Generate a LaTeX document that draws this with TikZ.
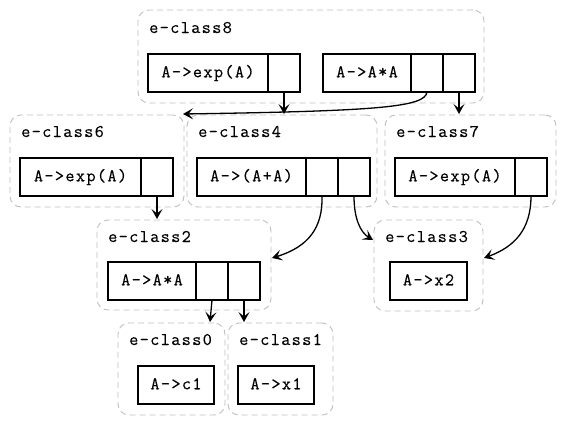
\documentclass[tikz,border=0pt]{standalone}
\usepackage{fontspec}
\newfontfamily\cour{Latin Modern Mono}[LetterSpace=7.5,FakeBold=0.25]
\usetikzlibrary{arrows.meta}
\begin{document}
\begin{tikzpicture}[x=1pt,y=-1pt,
  every node/.style={font=\cour\fontsize{17.8pt}{20pt}\selectfont},
  cluster/.style={draw=black!25, dash pattern=on 6pt off 4pt, rounded corners=11pt,
    line width=0.9pt, anchor=north west, inner sep=0pt, outer sep=0pt},
  clabel/.style={anchor=base west, inner sep=0pt},
  rec/.style={draw=black, line width=1.1pt, minimum height=38pt, inner sep=0pt,
    outer sep=0pt, text height=11pt, text depth=2.5pt},
  port/.style={rec, minimum width=32pt, anchor=west},
  edge/.style={line width=1.3pt, -{Stealth[length=10pt,width=11pt,inset=4.5pt]}}
]
\useasboundingbox (0,0) rectangle (568,426);
% clusters
\node[cluster, minimum width=346pt, minimum height=93pt] (cl8) at (138,10) {};
\node[cluster, minimum width=174pt, minimum height=92pt] (cl6) at (10,115) {};
\node[cluster, minimum width=190pt, minimum height=92pt] (cl4) at (187,115) {};
\node[cluster, minimum width=171pt, minimum height=92pt] (cl7) at (385,115) {};
\node[cluster, minimum width=174pt, minimum height=90pt] (cl2) at (97,220) {};
\node[cluster, minimum width=109pt, minimum height=91pt] (cl3) at (374,220) {};
\node[cluster, minimum width=107pt, minimum height=92pt] (cl0) at (118,323) {};
\node[cluster, minimum width=105pt, minimum height=92pt] (cl1) at (228,323) {};
% cluster labels
\node[clabel] (l8) at (149,33) {e-class8};
\node[clabel] (l6) at (21,137) {e-class6};
\node[clabel] (l4) at (198,137) {e-class4};
\node[clabel] (l7) at (396,137) {e-class7};
\node[clabel] (l2) at (108,242) {e-class2};
\node[clabel] (l3) at (385,242) {e-class3};
\node[clabel] (l0) at (129,345) {e-class0};
\node[clabel] (l1) at (239,345) {e-class1};
% records
\node[rec, anchor=north west, minimum width=120pt] (r81) at (148,54) {A->exp(A)};
\node[port] (p81) at (r81.east) {};
\node[rec, anchor=north west, minimum width=88pt] (r82) at (323,54) {A->A*A};
\node[port] (p82a) at (r82.east) {};
\node[port] (p82b) at (p82a.east) {};
\node[rec, anchor=north west, minimum width=121pt] (r6) at (20,158) {A->exp(A)};
\node[port] (p6) at (r6.east) {};
\node[rec, anchor=north west, minimum width=109pt] (r4) at (197,158) {A->(A+A)};
\node[port] (p4a) at (r4.east) {};
\node[port] (p4b) at (p4a.east) {};
\node[rec, anchor=north west, minimum width=120pt] (r7) at (395,158) {A->exp(A)};
\node[port] (p7) at (r7.east) {};
\node[rec, anchor=north west, minimum width=88pt] (r2) at (108,262) {A->A*A};
\node[port] (p2a) at (r2.east) {};
\node[port] (p2b) at (p2a.east) {};
\node[rec, anchor=north west, minimum width=77pt] (r3) at (390,262) {A->x2};
\node[rec, anchor=north west, minimum width=76pt] (r0) at (138,366) {A->c1};
\node[rec, anchor=north west, minimum width=76pt] (r1) at (238,366) {A->x1};
% edge ends on cluster borders
\coordinate (t4) at (284,114);
\coordinate (t6) at (183,114);
\coordinate (t7) at (459,114);
\coordinate (t2a) at (157,219);
\coordinate (t2b) at (272,258);
\coordinate (t3a) at (373,240);
\coordinate (t3b) at (484,258);
\coordinate (t0) at (210,322);
\coordinate (t1) at (244,322);
% edges
\draw[edge] (p81.south) -- (t4);
\draw[edge] (p82a.south) .. controls (425,107) and (380,111) .. (t6);
\draw[edge] (p82b.south) -- (t7);
\draw[edge] (p6.south) -- (t2a);
\draw[edge] (p4a.south) .. controls (323,228) and (308,247) .. (t2b);
\draw[edge] (p4b.south) .. controls (354,218) and (360,232) .. (t3a);
\draw[edge] (p7.south) .. controls (531,230) and (514,247) .. (t3b);
\draw[edge] (p2a.south) -- (t0);
\draw[edge] (p2b.south) -- (t1);
\end{tikzpicture}
\end{document}
